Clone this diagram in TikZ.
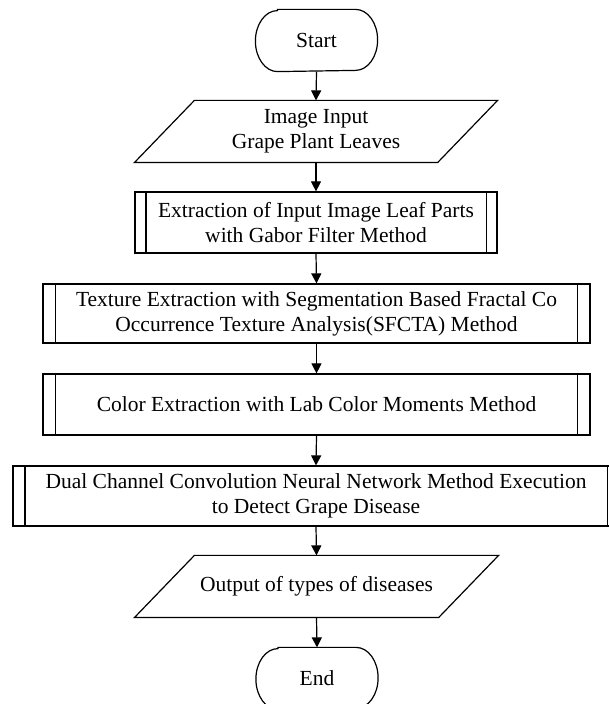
\documentclass[tikz,border=0pt]{standalone}
\usepackage{fontspec}
\setmainfont{Liberation Serif}
\usetikzlibrary{arrows.meta}
\begin{document}
\begin{tikzpicture}[x=1pt,y=1pt,
  line width=1.2pt,
  every node/.style={font=\fontsize{21.5}{25}\selectfont, align=center, inner sep=0pt},
  box/.style={minimum height=61pt},
  terminal/.style={box, minimum width=121pt},
  flow/.style={-{Triangle[length=10pt,width=10pt]}, line width=1.2pt}
]
\useasboundingbox (0,0) rectangle (608,704);
\fill[white] (0,0) rectangle (608,704);

% terminals and I/O shapes (outlines drawn below)
\node[terminal] (start) at (316.5,663.5) {Start};
\node[box, minimum width=362pt] (input) at (316,572.5) {Image Input\\Grape Plant Leaves};

% predefined-process boxes
\node[box, draw, minimum width=362pt] (gabor) at (316,481.5)
  {Extraction of Input Image Leaf Parts\\with Gabor Filter Method};
\node[box, draw, minimum width=547pt, minimum height=59pt] (texture) at (316.5,390.5)
  {Texture Extraction with Segmentation Based Fractal Co\\Occurrence Texture Analysis(SFCTA) Method};
\node[box, draw, minimum width=547pt] (color) at (316.5,299.5)
  {Color Extraction with Lab Color Moments Method};
\node[box, draw, minimum width=606pt, minimum height=60pt] (cnn) at (316,208)
  {Dual Channel Convolution Neural Network Method Execution\\to Detect Grape Disease};

\node[box, minimum width=363pt] (output) at (316.5,117.5) {Output of types of diseases};
\node[terminal] (finish) at (317,25.5) {End};

% side bars of the predefined-process boxes
\foreach \b/\d in {gabor/11.5, texture/13, color/13, cnn/12.5}{
  \draw ([xshift=\d pt]\b.north west) -- ([xshift=\d pt]\b.south west);
  \draw ([xshift=-\d pt]\b.north east) -- ([xshift=-\d pt]\b.south east);
}

% parallelograms
\foreach \p in {input, output}{
  \draw ([xshift=60pt]\p.north west) -- (\p.north east)
        -- ([xshift=-60pt]\p.south east) -- (\p.south west) -- cycle;
}

% rounded terminal outlines
\foreach \t in {start, finish}{
  \draw ([xshift=22pt]\t.north west) -- ([xshift=-22pt]\t.north east)
        arc[start angle=90, end angle=-90, x radius=22pt, y radius=30.5pt]
        -- ([xshift=22pt]\t.south west)
        arc[start angle=270, end angle=90, x radius=22pt, y radius=30.5pt] -- cycle;
}

% connectors
\draw[flow] (start.south) -- (input.north);
\draw[flow] (input.south) -- (gabor.north);
\draw[flow] (gabor.south) -- (texture.north);
\draw[flow] (texture.south) -- (color.north);
\draw[flow] (color.south) -- (cnn.north);
\draw[flow] (cnn.south) -- (output.north);
\draw[flow] (output.south) -- (finish.north);
\end{tikzpicture}
\end{document}
